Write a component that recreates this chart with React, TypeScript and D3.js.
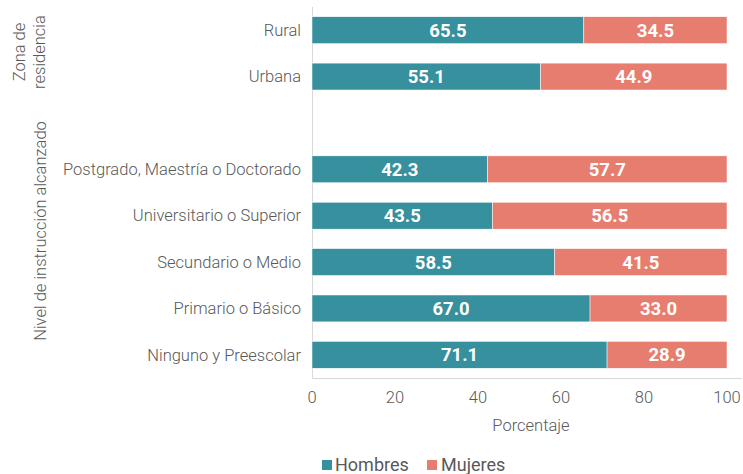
import React from "react";
import * as d3 from "d3";

const categories = [
  "Rural",
  "Urbana",
  "",
  "Postgrado, Maestría o Doctorado",
  "Universitario o Superior",
  "Secundario o Medio",
  "Primario o Básico",
  "Ninguno y Preescolar",
];
const hombres: (number | null)[] = [65.5, 55.1, null, 42.3, 43.5, 58.5, 67.0, 71.1];
const mujeres: (number | null)[] = [34.5, 44.9, null, 57.7, 56.5, 41.5, 33.0, 28.9];
const xTicks = [0, 20, 40, 60, 80, 100];
const seriesNames = ["Hombres", "Mujeres"];
const colors = ["#36909D", "#E77D6F"];

const W = 743;
const H = 474;
const FONT = "Roboto, sans-serif";
const GRAY = "#595959";
const FS = 16.5;

export default function App() {
  const x = d3.scaleLinear().domain([0, 100]).range([312, 727]);
  const y = d3
    .scaleBand<string>()
    .domain(categories.map((c, i) => String(i)))
    .range([7, 378])
    .paddingInner(0.42)
    .paddingOuter(0.21);

  const rows = categories.map((c, i) => ({ c, i, h: hombres[i], m: mujeres[i] }));

  return (
    <svg
      width={W}
      height={H}
      style={{ position: "absolute", left: 0, top: 0, display: "block", background: "#fff" }}
      fontFamily={FONT}
    >
      {/* axes lines */}
      <line x1={312.5} x2={312.5} y1={7} y2={378.5} stroke="#d9d9d9" strokeWidth={1} />
      <line x1={312} x2={742} y1={378.5} y2={378.5} stroke="#d9d9d9" strokeWidth={1} />

      {rows.map((r) => {
        if (r.h == null || r.m == null) return null;
        const yy = y(String(r.i))!;
        const bh = y.bandwidth();
        const x0 = x(0);
        const x1 = x(r.h);
        const x2 = x(r.h + r.m);
        const cy = yy + bh / 2;
        return (
          <g key={r.i}>
            <rect x={x0} y={yy} width={x1 - x0} height={bh} fill={colors[0]} stroke="#fff" strokeWidth={0.5} />
            <rect x={x1} y={yy} width={x2 - x1} height={bh} fill={colors[1]} stroke="#fff" strokeWidth={0.5} />
            <text x={(x0 + x1) / 2} y={cy} dy="0.35em" textAnchor="middle" fill="#fff" fontWeight={700} fontSize={18.5}>
              {r.h.toFixed(1)}
            </text>
            <text x={(x1 + x2) / 2} y={cy} dy="0.35em" textAnchor="middle" fill="#fff" fontWeight={700} fontSize={18.5}>
              {r.m.toFixed(1)}
            </text>
          </g>
        );
      })}

      {/* category labels */}
      {rows.map((r) =>
        r.c ? (
          <text
            key={"l" + r.i}
            x={301}
            y={y(String(r.i))! + y.bandwidth() / 2}
            dy="0.35em"
            textAnchor="end"
            fill={GRAY}
            fontWeight={300}
            fontSize={FS}
          >
            {r.c}
          </text>
        ) : null
      )}

      {/* x ticks */}
      {xTicks.map((t) => (
        <text key={t} x={x(t)} y={397} dy="0.35em" textAnchor="middle" fill={GRAY} fontWeight={300} fontSize={FS}>
          {t}
        </text>
      ))}
      <text x={531} y={425} dy="0.35em" textAnchor="middle" fill={GRAY} fontWeight={300} fontSize={FS}>
        Porcentaje
      </text>

      {/* group labels */}
      <g transform="translate(19,52) rotate(-90)">
        <text x={0} y={0} dy="0.35em" textAnchor="middle" fill={GRAY} fontWeight={300} fontSize={FS}>
          Zona de
        </text>
      </g>
      <g transform="translate(39,52) rotate(-90)">
        <text x={0} y={0} dy="0.35em" textAnchor="middle" fill={GRAY} fontWeight={300} fontSize={FS}>
          residencia
        </text>
      </g>
      <g transform="translate(40,231) rotate(-90)">
        <text x={0} y={0} dy="0.35em" textAnchor="middle" fill={GRAY} fontWeight={300} fontSize={FS}>
          Nivel de instrucción alcanzado
        </text>
      </g>

      {/* legend */}
      <rect x={322} y={460} width={10} height={10} fill={colors[0]} />
      <text x={335} y={465} dy="0.35em" fill={GRAY} fontWeight={400} fontSize={18}>
        {seriesNames[0]}
      </text>
      <rect x={427} y={460} width={10} height={10} fill={colors[1]} />
      <text x={441} y={465} dy="0.35em" fill={GRAY} fontWeight={400} fontSize={18}>
        {seriesNames[1]}
      </text>
    </svg>
  );
}
